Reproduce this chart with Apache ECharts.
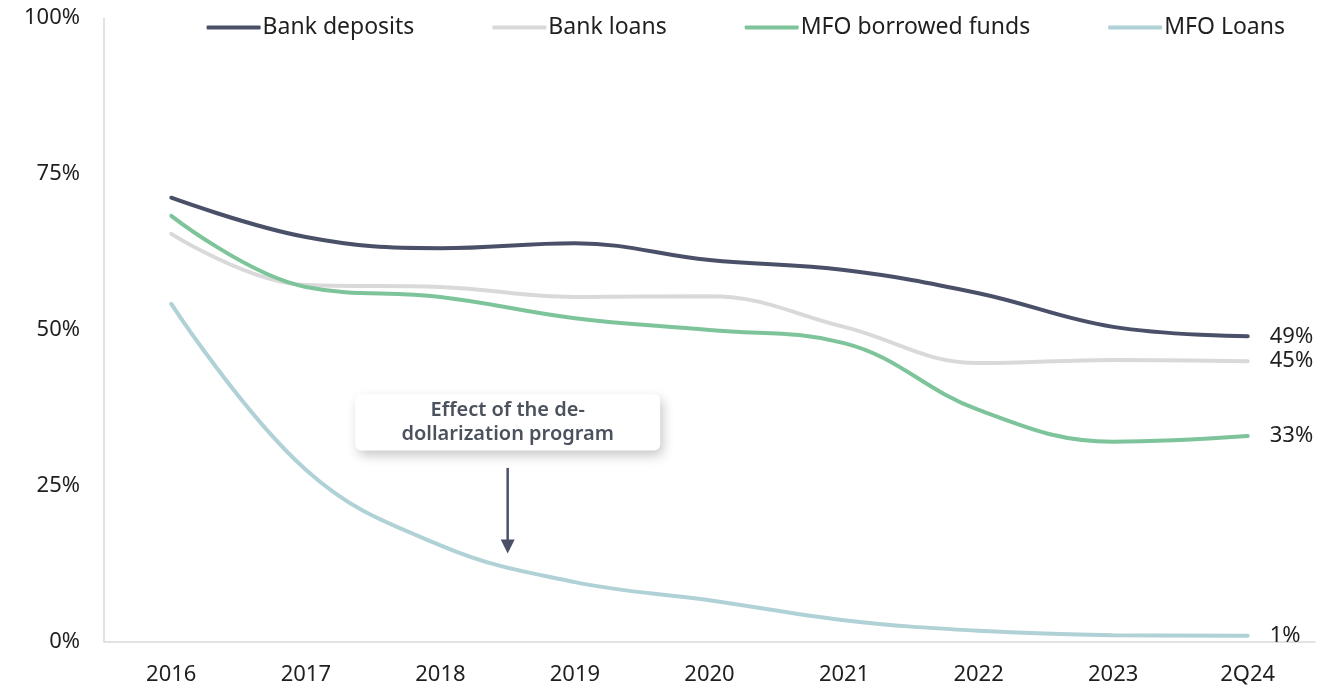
<!DOCTYPE html>
<html>
<head>
<meta charset="utf-8">
<title>Dollarization of deposits and loans</title>
<script src="https://cdn.jsdelivr.net/npm/echarts@6/dist/echarts.min.js"></script>
<style>
  html, body { margin: 0; padding: 0; background: #fff; }
  #chart { width: 1325px; height: 689px; }
</style>
</head>
<body>
<div id="chart"></div>
<script>
// Share of foreign currency, %
const categories = ['2016', '2017', '2018', '2019', '2020', '2021', '2022', '2023', '2Q24'];
const bankDeposits = [71.2, 64.9, 63.1, 63.9, 61.2, 59.6, 55.9, 50.5, 49];
const bankLoans = [65.4, 57.2, 56.9, 55.3, 55.4, 50.5, 44.7, 45.2, 45];
const mfoBorrowedFunds = [68.3, 56.9, 55.3, 51.9, 50.0, 47.9, 37.2, 32.1, 33];
const mfoLoans = [54.2, 27.6, 15.5, 9.6, 6.7, 3.5, 1.8, 1.1, 1];
const yTicks = [0, 25, 50, 75, 100];

const FONT = '"Noto Sans", "Open Sans", sans-serif';
const TEXT = '#1f1f1f';

function line(name, data, color) {
  return {
    name: name,
    type: 'line',
    data: data,
    smooth: 0.4,
    symbol: 'none',
    lineStyle: { width: 4, color: color, cap: 'round' },
    itemStyle: { color: color },
    endLabel: {
      show: true,
      formatter: p => Math.round(p.value) + '%',
      color: TEXT,
      fontFamily: FONT,
      fontSize: 22,
      distance: 22
    },
    z: 3
  };
}

const chart = echarts.init(document.getElementById('chart'), null, { renderer: 'canvas' });

chart.setOption({
  animation: false,
  backgroundColor: '#fff',
  grid: { left: 104, right: 10, top: 18, bottom: 47 },
  legend: {
    top: 11,
    right: 35,
    itemWidth: 54,
    itemHeight: 4,
    itemGap: 78,
    icon: 'roundRect',
    textStyle: { color: TEXT, fontFamily: FONT, fontSize: 23, padding: [0, 0, 0, -3] },
    data: ['Bank deposits', 'Bank loans', 'MFO borrowed funds', 'MFO Loans']
  },
  xAxis: {
    type: 'category',
    data: categories,
    boundaryGap: true,
    axisLine: { show: true, lineStyle: { color: '#d9d9d9', width: 1.5 } },
    axisTick: { show: false },
    axisLabel: { color: TEXT, fontFamily: FONT, fontSize: 22, margin: 22 }
  },
  yAxis: {
    type: 'value',
    min: yTicks[0],
    max: yTicks[yTicks.length - 1],
    interval: 25,
    axisLine: { show: true, lineStyle: { color: '#d9d9d9', width: 1.5 } },
    axisTick: { show: false },
    splitLine: { show: false },
    axisLabel: {
      color: TEXT, fontFamily: FONT, fontSize: 22, margin: 24,
      formatter: v => v + '%'
    }
  },
  series: [
    line('Bank deposits', bankDeposits, '#4a5068'),
    line('Bank loans', bankLoans, '#d9d9d9'),
    line('MFO borrowed funds', mfoBorrowedFunds, '#7dc49b'),
    line('MFO Loans', mfoLoans, '#b0d1d6')
  ]
});

// Callout between 2018 and 2019 pointing down at the MFO loans curve
function drawCallout() {
  const x18 = chart.convertToPixel({ xAxisIndex: 0 }, '2018');
  const x19 = chart.convertToPixel({ xAxisIndex: 0 }, '2019');
  const cx = (x18 + x19) / 2;
  const boxTop = chart.convertToPixel({ yAxisIndex: 0 }, 39.7);
  const boxBottom = chart.convertToPixel({ yAxisIndex: 0 }, 30.7);
  const arrowTop = chart.convertToPixel({ yAxisIndex: 0 }, 27.9);
  const arrowTip = chart.convertToPixel({ yAxisIndex: 0 }, 14.2);
  const boxW = 305;
  const dark = '#4a5068';
  chart.setOption({
    graphic: [
      {
        type: 'rect',
        shape: { x: cx - boxW / 2, y: boxTop, width: boxW, height: boxBottom - boxTop, r: 6 },
        style: {
          fill: '#fff',
          shadowBlur: 12,
          shadowColor: 'rgba(0,0,0,0.22)',
          shadowOffsetX: 3,
          shadowOffsetY: 5
        },
        z: 10
      },
      {
        type: 'text',
        x: cx,
        y: (boxTop + boxBottom) / 2,
        style: {
          text: 'Effect of the de-\ndollarization program',
          align: 'center',
          verticalAlign: 'middle',
          fill: '#4b525e',
          fontFamily: FONT,
          fontWeight: 600,
          fontSize: 20,
          lineHeight: 24
        },
        z: 11
      },
      {
        type: 'line',
        shape: { x1: cx, y1: arrowTop, x2: cx, y2: arrowTip - 12 },
        style: { stroke: dark, lineWidth: 2.5 },
        z: 10
      },
      {
        type: 'polygon',
        shape: { points: [[cx - 7, arrowTip - 14], [cx + 7, arrowTip - 14], [cx, arrowTip]] },
        style: { fill: dark },
        z: 10
      }
    ]
  });
}
drawCallout();
</script>
</body>
</html>
